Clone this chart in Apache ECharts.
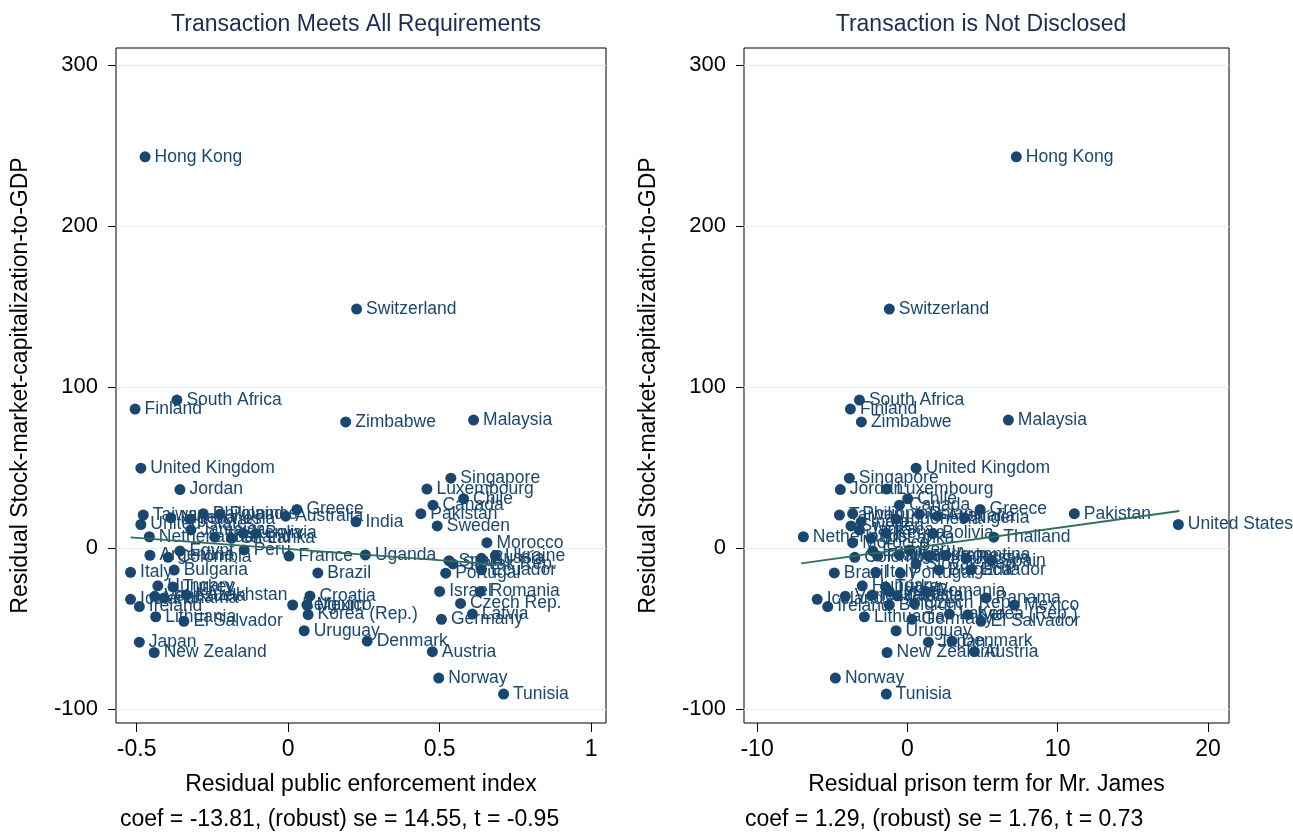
<!DOCTYPE html>
<html>
<head>
<meta charset="utf-8">
<script src="https://cdn.jsdelivr.net/npm/echarts@6/dist/echarts.min.js"></script>
<style>
html,body{margin:0;padding:0;background:#fff;}
#chart{width:1293px;height:832px;}
</style>
</head>
<body>
<div id="chart"></div>
<script>
// ---- data ----
const countries = ["Hong Kong","Switzerland","South Africa","Finland","Zimbabwe","Malaysia","United Kingdom","Singapore","Jordan","Luxembourg",
"Chile","Canada","Greece","Pakistan","Taiwan","Philippines","Poland","Australia","Nigeria","Indonesia",
"India","United States","Sweden","Jamaica","Kenya","Bolivia","Netherlands","Thailand","Sri Lanka","Morocco",
"Peru","Egypt","Uganda","Argentina","France","Ukraine","Colombia","Russia","Spain","Slovak Rep.",
"Ecuador","Bulgaria","Italy","Brazil","Portugal","Hungary","Turkey","Israel","Romania","Kazakhstan",
"Croatia","Venezuela","Panama","Iceland","Czech Rep.","Belgium","Mexico","Ireland","Latvia","Korea (Rep.)",
"Lithuania","Germany","El Salvador","Uruguay","Denmark","Japan","Austria","New Zealand","Norway","Tunisia"];
const stockCapResid = [243,148.4,91.9,86.3,78.3,79.5,49.6,43.4,36.3,36.6,
30.6,26.6,24.0,21.3,20.5,21.3,21.0,19.8,18.8,18.0,
16.3,14.6,13.7,11.2,9.1,9.0,7.0,6.7,6.0,3.3,
-1.2,-1.9,-4.3,-4.5,-5.0,-4.8,-5.8,-6.4,-7.9,-9.9,
-13.5,-13.7,-15.1,-15.5,-15.6,-23.5,-24.2,-27.0,-27.0,-29.2,
-29.8,-30.0,-31.0,-31.9,-34.4,-35.4,-35.4,-36.4,-41.0,-41.4,
-42.7,-44.3,-45.5,-51.4,-57.8,-58.5,-64.4,-64.9,-80.8,-90.7];
const enforcementResid = [-0.472,0.226,-0.367,-0.505,0.190,0.612,-0.486,0.537,-0.357,0.458,
0.579,0.478,0.029,0.438,-0.478,-0.280,-0.225,-0.008,-0.387,-0.324,
0.224,-0.486,0.492,-0.321,-0.148,-0.107,-0.458,-0.242,-0.187,0.656,
-0.145,-0.357,0.255,-0.456,0.003,0.684,-0.396,0.638,0.531,0.544,
0.638,-0.376,-0.520,0.098,0.520,-0.430,-0.380,0.500,0.634,-0.335,
0.072,-0.440,-0.410,-0.520,0.569,0.015,0.062,-0.491,0.608,0.066,
-0.437,0.506,-0.344,0.053,0.261,-0.491,0.476,-0.442,0.497,0.711];
const prisonResid = [7.25,-1.20,-3.19,-3.79,-3.06,6.72,0.58,-3.86,-4.46,-1.38,
0.02,-0.53,4.84,11.11,-4.52,-3.64,0.80,2.00,3.80,-0.75,
-3.08,18.03,-3.75,-3.19,-1.42,1.69,-6.92,5.75,-2.42,-3.64,
0.13,-2.30,-0.53,2.57,-1.98,1.46,-3.50,3.90,5.60,0.58,
4.24,2.10,-2.10,-4.86,-0.47,-3.00,-1.45,-1.20,1.24,-2.33,
-0.67,-4.13,5.24,-6.00,0.47,-1.20,7.12,-5.30,2.80,4.02,
-2.86,0.30,4.90,-0.75,2.97,1.40,4.46,-1.35,-4.79,-1.40];
const fitEnfX = [-0.52, 0.72];
const fitEnfY = [6.6, -10.6];
const fitPrisonX = [-7.07, 18.1];
const fitPrisonY = [-9.5, 23.0];
const yTicks = [-100, 0, 100, 200, 300];
const xTicksEnf = [-0.5, 0, 0.5, 1];
const xTicksPrison = [-10, 0, 10, 20];
const titles = ["Transaction Meets All Requirements", "Transaction is Not Disclosed"];
const xNames = ["Residual public enforcement index", "Residual prison term for Mr. James"];
const yName = "Residual Stock-market-capitalization-to-GDP";
const notes = ["coef = -13.81, (robust) se = 14.55, t = -0.95", "coef = 1.29, (robust) se = 1.76, t = 0.73"];

// ---- styling ----
const FONT = "'Liberation Sans', Arial, Helvetica, sans-serif";
const NAVY = '#1a476f';
const FIT = '#2f6f5c';
const TXT = 23;
const chart = echarts.init(document.getElementById('chart'), null, {renderer: 'canvas'});

function pts(xs) {
  return countries.map((n, i) => ({name: n, value: [xs[i], stockCapResid[i]]}));
}
function yAxisCfg(idx) {
  return {
    gridIndex: idx, type: 'value', min: -108.7, max: 310.6,
    axisLine: {show: false, onZero: false},
    axisTick: {show: true, length: 8, customValues: yTicks, lineStyle: {color: '#000'}},
    axisLabel: {customValues: yTicks, fontSize: 22, color: '#000', fontFamily: FONT, margin: 18},
    splitLine: {show: false},
    name: yName, nameLocation: 'middle', nameGap: 84, nameRotate: 90,
    nameTextStyle: {fontSize: TXT, color: '#000', fontFamily: FONT}
  };
}
function xAxisCfg(idx, min, max, ticks) {
  return {
    gridIndex: idx, type: 'value', min: min, max: max, position: 'bottom',
    axisLine: {show: false, onZero: false},
    axisTick: {show: true, length: 9, customValues: ticks, lineStyle: {color: '#000'}},
    axisLabel: {customValues: ticks, fontSize: TXT, color: '#000', fontFamily: FONT, margin: 15},
    splitLine: {show: false},
    name: xNames[idx], nameLocation: 'middle', nameGap: 50,
    nameTextStyle: {fontSize: TXT, color: '#000', fontFamily: FONT}
  };
}
function scatterCfg(idx, xs) {
  return {
    type: 'scatter', xAxisIndex: idx, yAxisIndex: idx,
    data: pts(xs), symbol: 'circle', symbolSize: 11,
    itemStyle: {color: NAVY, opacity: 1},
    label: {show: true, position: 'right', distance: 4, formatter: '{b}',
      fontSize: 17.5, color: NAVY, fontFamily: FONT},
    labelLayout: {hideOverlap: false},
    emphasis: {disabled: true}, silent: true, z: 3
  };
}
function fitCfg(idx, xs, ys) {
  return {
    type: 'line', xAxisIndex: idx, yAxisIndex: idx,
    data: xs.map((x, i) => [x, ys[i]]), symbol: 'none',
    lineStyle: {color: FIT, width: 1.8}, silent: true, z: 4,
    markLine: {
      silent: true, symbol: 'none', label: {show: false}, z: 1,
      lineStyle: {color: '#e4edf0', width: 1, type: 'solid'},
      data: yTicks.map(v => ({yAxis: v}))
    }
  };
}

const option = {
  animation: false,
  backgroundColor: '#ffffff',
  grid: [
    {left: 116, right: 1293 - 606, top: 48, bottom: 832 - 723, show: true, borderColor: '#000', borderWidth: 1, backgroundColor: '#fff'},
    {left: 744, right: 1293 - 1229, top: 48, bottom: 832 - 723, show: true, borderColor: '#000', borderWidth: 1, backgroundColor: '#fff'}
  ],
  xAxis: [
    xAxisCfg(0, -0.568, 1.049, xTicksEnf),
    xAxisCfg(1, -10.87, 21.4, xTicksPrison)
  ],
  yAxis: [yAxisCfg(0), yAxisCfg(1)],
  series: [
    fitCfg(0, fitEnfX, fitEnfY),
    scatterCfg(0, enforcementResid),
    fitCfg(1, fitPrisonX, fitPrisonY),
    scatterCfg(1, prisonResid)
  ],
  graphic: [
    {type: 'text', x: 356, y: 13, style: {text: titles[0], font: TXT + 'px ' + FONT, fill: '#1c2b52', textAlign: 'center'}},
    {type: 'text', x: 981, y: 13, style: {text: titles[1], font: TXT + 'px ' + FONT, fill: '#1c2b52', textAlign: 'center'}},
    {type: 'text', x: 120, y: 808, style: {text: notes[0], font: TXT + 'px ' + FONT, fill: '#000', textAlign: 'left'}},
    {type: 'text', x: 745, y: 808, style: {text: notes[1], font: TXT + 'px ' + FONT, fill: '#000', textAlign: 'left'}}
  ]
};
chart.setOption(option);
</script>
</body>
</html>
